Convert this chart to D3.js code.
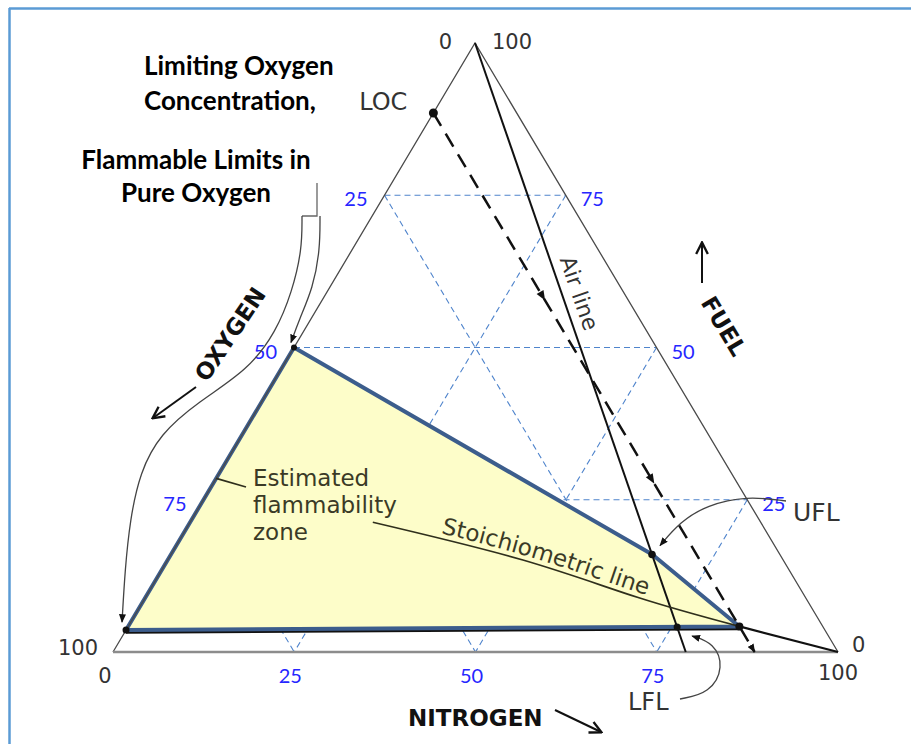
<!DOCTYPE html>
<html>
<head>
<meta charset="utf-8">
<script src="https://cdn.jsdelivr.net/npm/d3@7"></script>
<style>
  html, body { margin: 0; padding: 0; background: #fff; }
  svg { display: block; }
</style>
</head>
<body>
<svg id="chart" width="911" height="744"></svg>
<script>
// ---- Data (ternary compositions, percent; nitrogen = 100 - fuel - oxygen) ----
const gridLevels     = [25, 50, 75];          // dashed grid + blue tick labels
const axisEndLabels  = ["0", "100"];
const airOxygen      = 21;                    // O2 share of air
const locOxygen      = 11.5;                  // limiting oxygen concentration
// flammability zone corners: [fuel, oxygen]
const zoneFuel       = [50, 16, 4.2, 3.6];
const zoneOxygen     = [50, 17.6, 11.5, 96.4];
const uflAirFuel     = 16;                    // upper limit in air
const lflAirFuel     = 4.1;                   // lower limit in air
// stoichiometric line: [fuel, oxygen]
const stoichFuel     = [21.3, 15.1, 8.9, 4.2];
const stoichOxygen   = [53.5, 35.9, 23.0, 11.5];

// ---- Ternary projection built from linear scales ----
const nitrogenX = d3.scaleLinear().domain([0, 100]).range([113, 838]);  // along the base
const fuelY     = d3.scaleLinear().domain([0, 100]).range([652, 43]);   // height
const fuelLean  = d3.scaleLinear().domain([0, 100]).range([0, 362]);    // sideways lean towards the apex
function proj(fuel, o2) {
  const n2 = 100 - fuel - o2;
  return [nitrogenX(n2) + fuelLean(fuel), fuelY(fuel)];
}
const apex = proj(100, 0), oxyCorner = proj(0, 100), nitroCorner = proj(0, 0);

const svg = d3.select("#chart");
const line = d3.line();

// page frame
svg.append("line").attr("x1", 9).attr("x2", 911).attr("y1", 8.5).attr("y2", 8.5)
  .attr("stroke", "#5b9bd5").attr("stroke-width", 2.5);
svg.append("line").attr("x1", 9.5).attr("x2", 9.5).attr("y1", 8).attr("y2", 744)
  .attr("stroke", "#5b9bd5").attr("stroke-width", 2.5);

// arrowhead markers
const defs = svg.append("defs");
defs.append("marker").attr("id", "tip").attr("viewBox", "0 0 10 8")
  .attr("refX", 9).attr("refY", 4).attr("markerWidth", 9).attr("markerHeight", 7)
  .attr("markerUnits", "userSpaceOnUse").attr("orient", "auto")
  .append("path").attr("d", "M0,0L10,4L0,8Z").attr("fill", "#111");
defs.append("marker").attr("id", "chev").attr("viewBox", "0 0 12 12")
  .attr("refX", 10.5).attr("refY", 6).attr("markerWidth", 14).attr("markerHeight", 14)
  .attr("markerUnits", "userSpaceOnUse").attr("orient", "auto")
  .append("path").attr("d", "M1,1L11,6L1,11").attr("fill", "none")
  .attr("stroke", "#111").attr("stroke-width", 2);

// ---- dashed composition grid ----
const gridSegs = [];
gridLevels.forEach(k => {
  gridSegs.push([proj(k, 100 - k), proj(k, 0)]);        // constant fuel
  gridSegs.push([proj(100 - k, k), proj(0, k)]);        // constant oxygen
  gridSegs.push([proj(100 - k, 0), proj(0, 100 - k)]);  // constant nitrogen
});
svg.append("g").selectAll("path").data(gridSegs).join("path")
  .attr("d", d => line(d)).attr("fill", "none")
  .attr("stroke", "#4f84cc").attr("stroke-width", 1.1).attr("stroke-dasharray", "6,4");

// ---- flammability zone ----
const zonePts = zoneFuel.map((f, i) => proj(f, zoneOxygen[i]));
svg.append("path").attr("d", line(zonePts) + "Z").attr("fill", "#fdfdc9");
// lower limit line under the zone edge
svg.append("path").attr("d", line([zonePts[3], zonePts[2]]))
  .attr("transform", "translate(0,2.5)")
  .attr("stroke", "#111").attr("stroke-width", 2.5).attr("fill", "none");
svg.append("path").attr("d", line(zonePts) + "Z").attr("fill", "none")
  .attr("stroke", "#3c5d8c").attr("stroke-width", 4).attr("stroke-linejoin", "round");

// ---- triangle outline ----
svg.append("path").attr("d", line([oxyCorner, apex, nitroCorner])).attr("fill", "none")
  .attr("stroke", "#4a4a4a").attr("stroke-width", 1.3);
svg.append("path").attr("d", line([oxyCorner, nitroCorner])).attr("fill", "none")
  .attr("stroke", "#8c8c8c").attr("stroke-width", 2.6);

// ---- air line ----
const airPts = [apex, proj(0, airOxygen)];
svg.append("path").attr("id", "air-path").attr("d", line(airPts)).attr("fill", "none")
  .attr("stroke", "#111").attr("stroke-width", 2);

// ---- LOC line (constant oxygen) ----
const locTop = proj(100 - locOxygen, locOxygen), locBase = proj(0, locOxygen);
svg.append("path").attr("d", line([locTop, locBase])).attr("fill", "none")
  .attr("stroke", "#111").attr("stroke-width", 2.5).attr("stroke-dasharray", "15,9")
  .attr("marker-end", "url(#tip)");
const locAngle = Math.atan2(locBase[1] - locTop[1], locBase[0] - locTop[0]) * 180 / Math.PI;
[0.34, 0.68].forEach(t => {
  const p = d3.interpolate(locTop, locBase)(t);
  svg.append("path").attr("d", "M-5,-4L5,0L-5,4Z").attr("fill", "#111")
    .attr("transform", `translate(${p[0]},${p[1]}) rotate(${locAngle})`);
});

// ---- stoichiometric line ----
const stoichPts = stoichFuel.map((f, i) => proj(f, stoichOxygen[i]));
svg.append("path").attr("id", "stoich-path")
  .attr("d", d3.line().curve(d3.curveNatural)(stoichPts)).attr("fill", "none")
  .attr("stroke", "#2f2f1c").attr("stroke-width", 1.7);
svg.append("path").attr("d", line([stoichPts[stoichPts.length - 1], nitroCorner]))
  .attr("fill", "none").attr("stroke", "#111").attr("stroke-width", 2.2);

// ---- marked points ----
const uflPt = proj(uflAirFuel, (100 - uflAirFuel) * airOxygen / 100);
const lflPt = proj(lflAirFuel, (100 - lflAirFuel) * airOxygen / 100);
const dots = [
  { p: locTop, r: 4.5 }, { p: zonePts[0], r: 3 }, { p: zonePts[3], r: 3.5 },
  { p: zonePts[2], r: 4 }, { p: uflPt, r: 3.8 }, { p: lflPt, r: 3.5 }
];
svg.append("g").selectAll("circle").data(dots).join("circle")
  .attr("cx", d => d.p[0]).attr("cy", d => d.p[1]).attr("r", d => d.r).attr("fill", "#111");

// ---- tick labels ----
const tickFont = "Lato, 'Open Sans', sans-serif";
const blue = "#2626ff";
const tickG = svg.append("g").attr("font-family", tickFont).attr("font-size", 20).attr("fill", blue);
gridLevels.forEach(k => {
  const left = proj(100 - k, k);     // oxygen ticks along the left side
  tickG.append("text").attr("x", left[0] - 17).attr("y", left[1] + 11)
    .attr("text-anchor", "end").text(k);
  const right = proj(k, 0);          // fuel ticks along the right side
  tickG.append("text").attr("x", right[0] + 15).attr("y", right[1] + 11).text(k);
  const base = proj(0, 100 - k);     // nitrogen ticks along the base
  tickG.append("text").attr("x", base[0] - 4).attr("y", base[1] + 31)
    .attr("text-anchor", "middle").text(k);
});

const grey = "#333";
const sans = "'DejaVu Sans', sans-serif";
const cornerG = svg.append("g").attr("font-family", sans).attr("font-size", 21).attr("fill", grey);
cornerG.append("text").attr("x", apex[0] - 23).attr("y", apex[1] + 6).attr("text-anchor", "end").text(axisEndLabels[0]);
cornerG.append("text").attr("x", apex[0] + 17).attr("y", apex[1] + 6).text(axisEndLabels[1]);
cornerG.append("text").attr("x", oxyCorner[0] - 15).attr("y", oxyCorner[1] + 3).attr("text-anchor", "end").text(axisEndLabels[1]);
cornerG.append("text").attr("x", oxyCorner[0] - 8).attr("y", oxyCorner[1] + 31).attr("text-anchor", "middle").text(axisEndLabels[0]);
cornerG.append("text").attr("x", nitroCorner[0] + 14).attr("y", nitroCorner[1]).text(axisEndLabels[0]);
cornerG.append("text").attr("x", nitroCorner[0]).attr("y", nitroCorner[1] + 28).attr("text-anchor", "middle").text(axisEndLabels[1]);

// ---- axis names with arrows ----
const boldSans = svg.append("g").attr("font-family", sans).attr("font-weight", "bold")
  .attr("font-size", 23).attr("fill", "#111");
boldSans.append("text").attr("transform", "translate(230,334) rotate(-56)")
  .attr("text-anchor", "middle").attr("dy", "0.36em").text("OXYGEN");
boldSans.append("text").attr("transform", "translate(724,326) rotate(59)")
  .attr("text-anchor", "middle").attr("dy", "0.36em").text("FUEL");
boldSans.append("text").attr("x", 408).attr("y", 726).text("NITROGEN");

const arrowStyle = sel => sel.attr("fill", "none").attr("stroke", "#111")
  .attr("stroke-width", 2).attr("marker-end", "url(#chev)");
svg.append("path").attr("d", line([[196, 387], [153, 418]])).call(arrowStyle);
svg.append("path").attr("d", line([[702, 283], [702, 243]])).call(arrowStyle);
svg.append("path").attr("d", line([[555, 710], [601, 732]])).call(arrowStyle);

// ---- annotations ----
const noteG = svg.append("g").attr("font-family", sans).attr("fill", grey);
noteG.append("text").attr("x", locTop[0] - 26).attr("y", locTop[1] - 3)
  .attr("text-anchor", "end").attr("font-size", 24).text("LOC");
noteG.append("text").attr("x", 793).attr("y", 521).attr("font-size", 25).text("UFL");
noteG.append("text").attr("x", 628).attr("y", 710).attr("font-size", 24).text("LFL");

noteG.append("text").attr("font-size", 22).attr("dy", -9)
  .append("textPath").attr("href", "#air-path").attr("startOffset", "36%").text("Air line");

const zoneText = svg.append("g").attr("font-family", sans).attr("font-size", 23).attr("fill", "#3a3a26");
["Estimated", "flammability", "zone"].forEach((t, i) =>
  zoneText.append("text").attr("x", 253).attr("y", 486 + i * 27).text(t));
zoneText.append("text").attr("dy", -5)
  .append("textPath").attr("href", "#stoich-path").attr("startOffset", "18%")
  .text("Stoichiometric line");
// leader from the zone label to the zone edge
const leftEdgeAt = fuel => proj(fuel, 100 - fuel);
svg.append("path").attr("d", line([[246, 487], leftEdgeAt(28.5)]))
  .attr("stroke", "#2f2f1c").attr("stroke-width", 1.7).attr("fill", "none");

// titles
const titleG = svg.append("g").attr("font-family", "Lato, 'Open Sans', sans-serif")
  .attr("font-weight", "bold").attr("font-size", 26).attr("fill", "#000");
titleG.append("text").attr("x", 144).attr("y", 75).text("Limiting Oxygen");
titleG.append("text").attr("x", 144).attr("y", 110).text("Concentration,");
titleG.append("text").attr("x", 196).attr("y", 169).attr("text-anchor", "middle").text("Flammable Limits in");
titleG.append("text").attr("x", 196).attr("y", 202).attr("text-anchor", "middle").text("Pure Oxygen");

// callout curves
const curve = d3.line().curve(d3.curveBasis);
const calloutStyle = sel => sel.attr("fill", "none").attr("stroke", "#444")
  .attr("stroke-width", 1.3).attr("marker-end", "url(#tip)");
const A = zonePts[0], B = zonePts[3];
svg.append("path").attr("d", line([[317, 183], [317, 216], [302, 216]]))
  .attr("fill", "none").attr("stroke", "#666").attr("stroke-width", 1.3);
svg.append("path").attr("d", curve([[320, 216], [320, 250], [313, 288], [299, 320], [A[0] - 3, A[1] - 5]]))
  .call(calloutStyle);
svg.append("path").attr("d", curve([[302, 216], [302, 250], [292, 292], [276, 332], [248, 370],
  [198, 402], [160, 434], [140, 472], [130, 520], [125, 570], [B[0] - 4, B[1] - 8]]))
  .call(calloutStyle);
svg.append("path").attr("d", curve([[786, 501], [747, 496], [707, 505], [680, 522], [uflPt[0] + 8, uflPt[1] - 9]]))
  .call(calloutStyle);
svg.append("path").attr("d", curve([[680, 699], [710, 693], [724, 667], [714, 643], [lflPt[0] + 15, lflPt[1] + 9]]))
  .call(calloutStyle);
</script>
</body>
</html>
